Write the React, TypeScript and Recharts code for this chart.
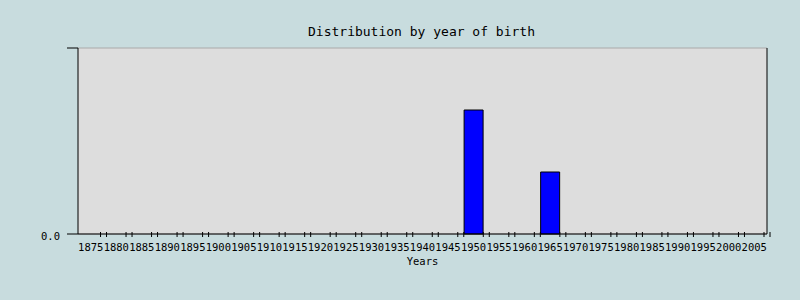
import { BarChart, Bar, XAxis, YAxis, CartesianGrid } from 'recharts'

// Birth years shown on the x axis, one bucket per 5 years
const years = [
  '1875', '1880', '1885', '1890', '1895', '1900', '1905', '1910', '1915',
  '1920', '1925', '1930', '1935', '1940', '1945', '1950', '1955', '1960',
  '1965', '1970', '1975', '1980', '1985', '1990', '1995', '2000', '2005',
]

// People per bucket
const counts = [
  0, 0, 0, 0, 0, 0, 0, 0, 0,
  0, 0, 0, 0, 0, 0, 2, 0, 0,
  1, 0, 0, 0, 0, 0, 0, 0, 0,
]

const yTicks = [0, 3]

const data = years.map((year, i) => ({ year, count: counts[i] }))

const FONT = '"DejaVu Sans Mono", monospace'
const BAND = (767 - 78) / years.length

// x tick: label plus a pair of little marks near the bucket boundary
function YearTick(props: any) {
  const { x, y, payload } = props
  const edge = x + BAND / 2
  return (
    <g>
      <line x1={edge - 3} y1={y - 2} x2={edge - 3} y2={y + 3} stroke="#000" />
      <line x1={edge + 3} y1={y - 2} x2={edge + 3} y2={y + 3} stroke="#000" />
      <text x={x} y={y + 17} textAnchor="middle" fontFamily={FONT} fontSize={10.5} fill="#000">
        {payload.value}
      </text>
    </g>
  )
}

export default function App() {
  return (
    <div style={{ position: 'absolute', left: 0, top: 0, width: 800, height: 300, background: '#c8dcde' }}>
      <div
        style={{
          position: 'absolute', left: 0, width: 843, top: 24, textAlign: 'center',
          fontFamily: FONT, fontSize: 13, color: '#000',
        }}
      >
        Distribution by year of birth
      </div>
      <BarChart
        width={800}
        height={300}
        data={data}
        margin={{ top: 48, right: 0, left: 0, bottom: 0 }}
        barCategoryGap="13%"
      >
        <CartesianGrid vertical={false} fill="#dddddd" stroke="#aaaaaa" />
        <XAxis
          dataKey="year"
          height={66}
          interval={0}
          axisLine={{ stroke: '#000' }}
          tickLine={false}
          tickSize={0}
          tickMargin={0}
          tick={<YearTick />}
          label={{ value: 'Years', position: 'insideTop', offset: 24, fontFamily: FONT, fontSize: 10.5, fill: '#000' }}
        />
        <YAxis
          yAxisId="left"
          width={78}
          domain={[0, 3]}
          ticks={yTicks}
          tickSize={11}
          tickMargin={7}
          axisLine={{ stroke: '#000' }}
          tickLine={{ stroke: '#000' }}
          tickFormatter={(v: number) => (v === 0 ? '0.0' : '')}
          tick={{ fontFamily: FONT, fontSize: 10.5, fill: '#000', dy: 2 }}
        />
        <YAxis
          yAxisId="right"
          orientation="right"
          width={33}
          domain={[0, 3]}
          ticks={[0]}
          tickSize={10}
          axisLine={{ stroke: '#000' }}
          tickLine={{ stroke: '#000' }}
          tick={false}
        />
        <Bar yAxisId="left" dataKey="count" fill="#0000ff" stroke="#000" isAnimationActive={false} />
      </BarChart>
    </div>
  )
}
